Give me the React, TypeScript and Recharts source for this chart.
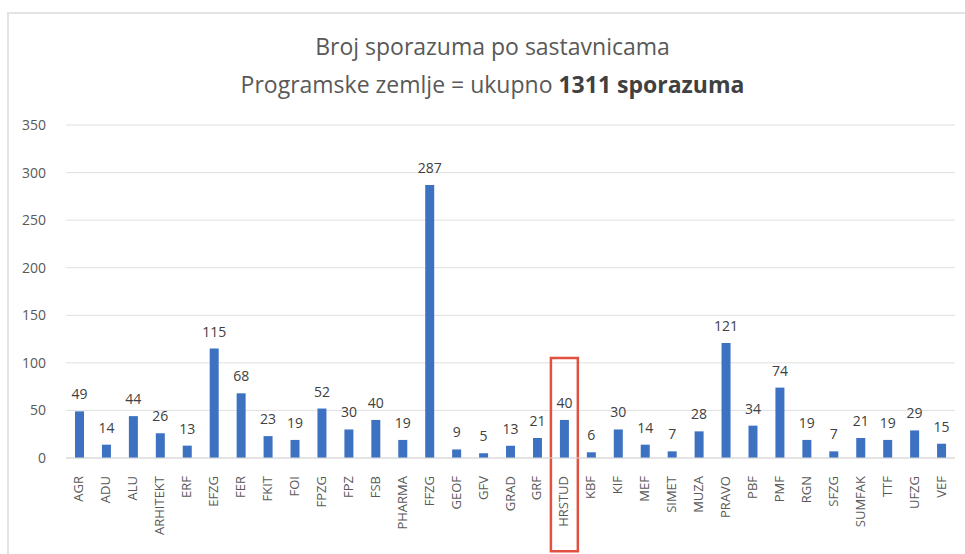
import React from "react";
import {
  BarChart,
  Bar,
  XAxis,
  YAxis,
  CartesianGrid,
  LabelList,
  ReferenceArea,
} from "recharts";

const categories = [
  "AGR", "ADU", "ALU", "ARHITEKT", "ERF", "EFZG", "FER", "FKIT", "FOI", "FPZG", "FPZ",
  "FSB", "PHARMA", "FFZG", "GEOF", "GFV", "GRAD", "GRF", "HRSTUD", "KBF", "KIF", "MEF",
  "SIMET", "MUZA", "PRAVO", "PBF", "PMF", "RGN", "SFZG", "SUMFAK", "TTF", "UFZG", "VEF",
];

const counts = [
  49, 14, 44, 26, 13, 115, 68, 23, 19, 52, 30, 40, 19, 287, 9, 5, 13, 21, 40, 6, 30, 14,
  7, 28, 121, 34, 74, 19, 7, 21, 19, 29, 15,
];

const yTicks = [0, 50, 100, 150, 200, 250, 300, 350];
const highlighted = "HRSTUD";

const data = categories.map((name, i) => ({ name, count: counts[i] }));

const FONT = "'Open Sans', 'Noto Sans', sans-serif";
const GREY = "#595959";

function CategoryTick(props: any) {
  const { x, y, payload } = props;
  return (
    <text
      x={x}
      y={y}
      transform={`rotate(-90, ${x}, ${y})`}
      dx={-10}
      dy={4}
      textAnchor="end"
      fontSize={13}
      fontFamily={FONT}
      fill={GREY}
    >
      {payload.value}
    </text>
  );
}

export default function App() {
  return (
    <div
      style={{
        position: "absolute",
        left: 0,
        top: 0,
        width: 965,
        height: 554,
        background: "#fff",
        overflow: "hidden",
        fontFamily: FONT,
      }}
    >
      <div
        style={{
          position: "absolute",
          left: 7,
          top: 12,
          width: 980,
          height: 560,
          borderLeft: "2px solid #e3e3e3",
          borderTop: "2px solid #e3e3e3",
        }}
      />
      <div
        style={{
          position: "absolute",
          left: 0,
          width: 985,
          top: 27,
          textAlign: "center",
          fontSize: 23,
          color: GREY,
          lineHeight: "38px",
        }}
      >
        <div>Broj sporazuma po sastavnicama</div>
        <div>
          Programske zemlje = ukupno <b style={{ color: "#404040" }}>1311 sporazuma</b>
        </div>
      </div>
      <BarChart
        width={965}
        height={554}
        data={data}
        margin={{ top: 125, right: 10, left: 0, bottom: 0 }}
        barSize={9}
        style={{ position: "absolute", left: 0, top: 0 }}
      >
        <CartesianGrid vertical={false} stroke="#e0e0e0" />
        <XAxis
          dataKey="name"
          interval={0}
          height={96}
          tick={<CategoryTick />}
          tickLine={false}
          axisLine={{ stroke: "#d9d9d9" }}
        />
        <YAxis
          domain={[0, 350]}
          ticks={yTicks}
          width={66}
          tickLine={false}
          axisLine={false}
          tickMargin={14}
          tick={{ fontSize: 14, fill: GREY, fontFamily: FONT }}
        />
        <ReferenceArea
          x1={highlighted}
          x2={highlighted}
          y1={-98}
          y2={105}
          ifOverflow="visible"
          fill="none"
          stroke="#e2513f"
          strokeWidth={2.5}
        />
        <Bar dataKey="count" fill="#3d72c2" isAnimationActive={false}>
          <LabelList
            dataKey="count"
            position="top"
            offset={12}
            fontSize={14}
            fill="#404040"
            fontFamily={FONT}
          />
        </Bar>
      </BarChart>
    </div>
  );
}
